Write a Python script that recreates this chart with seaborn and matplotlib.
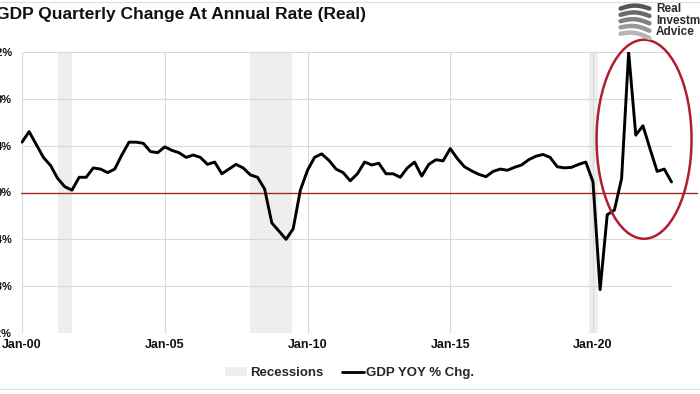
import numpy as np
import pandas as pd
import matplotlib
matplotlib.use("Agg")
import matplotlib.pyplot as plt
import matplotlib.dates as mdates
from matplotlib.patches import Ellipse, Patch
from matplotlib.lines import Line2D
import seaborn as sns

# Real GDP, year over year % change, quarterly 2000Q1 - 2022Q4
gdp_yoy = [
    4.3, 5.2, 4.1, 3.0,
    2.3, 1.2, 0.5, 0.2,
    1.3, 1.3, 2.1, 2.0,
    1.7, 2.0, 3.2, 4.3,
    4.3, 4.2, 3.5, 3.4,
    3.9, 3.6, 3.4, 3.0,
    3.2, 3.0, 2.4, 2.6,
    1.6, 2.0, 2.4, 2.1,
    1.5, 1.3, 0.3, -2.6,
    -3.3, -4.0, -3.1, 0.2,
    1.9, 3.0, 3.3, 2.75,
    2.0, 1.7, 1.0, 1.6,
    2.6, 2.35, 2.5, 1.6,
    1.6, 1.3, 2.1, 2.6,
    1.4, 2.4, 2.8, 2.7,
    3.75, 2.9, 2.2, 1.85,
    1.55, 1.35, 1.8, 2.0,
    1.9, 2.15, 2.35, 2.8,
    3.1, 3.25, 3.0, 2.2,
    2.1, 2.15, 2.4, 2.6,
    0.9, -8.3, -1.9, -1.5,
    1.2, 12.0, 4.9, 5.7,
    3.7, 1.8, 2.0, 0.9,
]
first_quarter = "2000-01-01"

# recession shading
rec_start = ["2001-04-01", "2008-01-01", "2019-11-15"]
rec_end = ["2001-10-01", "2009-06-15", "2020-03-01"]

tick_dates = ["2000-01-01", "2005-01-01", "2010-01-01", "2015-01-01", "2020-01-01"]
tick_labels = ["Jan-00", "Jan-05", "Jan-10", "Jan-15", "Jan-20"]
y_ticks = [-12, -8, -4, 0, 4, 8, 12]
y_labels = ["-12%", "-8%", "-4%", "0%", "4%", "8%", "12%"]

title = "GDP Quarterly Change At Annual Rate (Real)"

sns.set_theme(style="white")
plt.rcParams["font.family"] = ["Liberation Sans", "DejaVu Sans"]
narrow = ["Liberation Sans Narrow", "Liberation Sans", "DejaVu Sans"]

df = pd.DataFrame({
    "date": pd.date_range(first_quarter, periods=len(gdp_yoy), freq="QS"),
    "gdp": gdp_yoy,
})

fig = plt.figure(figsize=(7, 3.94), dpi=100)
ax = fig.add_axes([21 / 700, 61 / 394, 677 / 700, 281 / 394])

# x range: Jan-00 sits 1px in from the left edge, 12.79 days per pixel
jan00 = mdates.date2num(pd.Timestamp(first_quarter))
day_px = 7305 / 571
x_left = jan00 - day_px
x_right = x_left + 677 * day_px
grid_end = mdates.date2num(pd.Timestamp("2022-10-10"))

# recessions
for s, e in zip(rec_start, rec_end):
    ax.axvspan(pd.Timestamp(s), pd.Timestamp(e), color="#EEEEEE", lw=0, zorder=0)

# grid
ax.hlines([t for t in y_ticks if t != 0], jan00, grid_end, color="#D9D9D9", lw=0.8, zorder=1)
ax.vlines([mdates.date2num(pd.Timestamp(d)) for d in tick_dates], -12, 12,
          color="#D9D9D9", lw=0.8, zorder=1)
ax.axhline(0, color="#9E2B2B", lw=1.0, zorder=2)

sns.lineplot(data=df, x="date", y="gdp", color="black", linewidth=2.1, ax=ax, zorder=5)

ax.set_xlim(x_left, x_right)
ax.set_ylim(-12, 12)
ax.set_xticks([pd.Timestamp(d) for d in tick_dates])
ax.set_xticklabels(tick_labels, family=narrow, fontweight="bold", fontsize=9)
ax.set_yticks(y_ticks)
ax.set_yticklabels(y_labels, family=narrow, fontweight="bold", fontsize=8)
ax.tick_params(axis="x", length=0, pad=4.5, labelcolor="#111111")
ax.tick_params(axis="y", length=0, pad=6.5, labelcolor="#111111")
ax.set_xlabel("")
ax.set_ylabel("")
for sp in ax.spines.values():
    sp.set_visible(False)

# red ellipse round the post-covid swing
ell = Ellipse((mdates.date2num(pd.Timestamp("2021-10-15")), 4.55),
              width=95 * day_px, height=17.0, fill=False,
              edgecolor="#B01E2F", lw=1.8, clip_on=False, zorder=6)
ax.add_patch(ell)

# title
fig.text(-0.005, 1 - 19 / 394, title, ha="left", va="baseline",
         fontsize=12.5, fontweight="bold", color="#111111")

# legend
handles = [Patch(facecolor="#EFEFEF", edgecolor="none", label="Recessions"),
           Line2D([], [], color="black", lw=2, label="GDP YOY % Chg.")]
fig.legend(handles=handles, loc="center", bbox_to_anchor=(0.5, 21 / 394), ncol=2,
           frameon=False, prop={"size": 9.5, "weight": "bold"}, handlelength=1.67,
           handletextpad=0.2, columnspacing=1.4)

# logo
fig.text(656 / 700, 1 - 3 / 394, "Real\nInvestment\nAdvice", ha="left", va="top",
         fontsize=8.5, fontweight="bold", color="#2B2B2B", linespacing=0.95)
logo = fig.add_axes([617 / 700, 1 - 40 / 394, 36 / 700, 37 / 394])
logo.set_axis_off()
t = np.linspace(0, 1, 30)
for i, c in enumerate(["#555555", "#6A6A6A", "#808080", "#999999", "#B5B5B5"]):
    yy = 0.85 - i * 0.17
    logo.plot(0.1 + 0.8 * t, yy + 0.08 * np.sin(np.pi * t) - 0.12 * t * i / 4,
              color=c, lw=3.2, solid_capstyle="round")
logo.set_xlim(0, 1)
logo.set_ylim(0, 1)

# faint frame lines
fig.add_artist(Line2D([0, 1], [1 - 2 / 394] * 2, color="#DDDDDD", lw=0.8))
fig.add_artist(Line2D([0, 1], [5 / 394] * 2, color="#DDDDDD", lw=0.8))

fig.savefig("out.png", dpi=100)
